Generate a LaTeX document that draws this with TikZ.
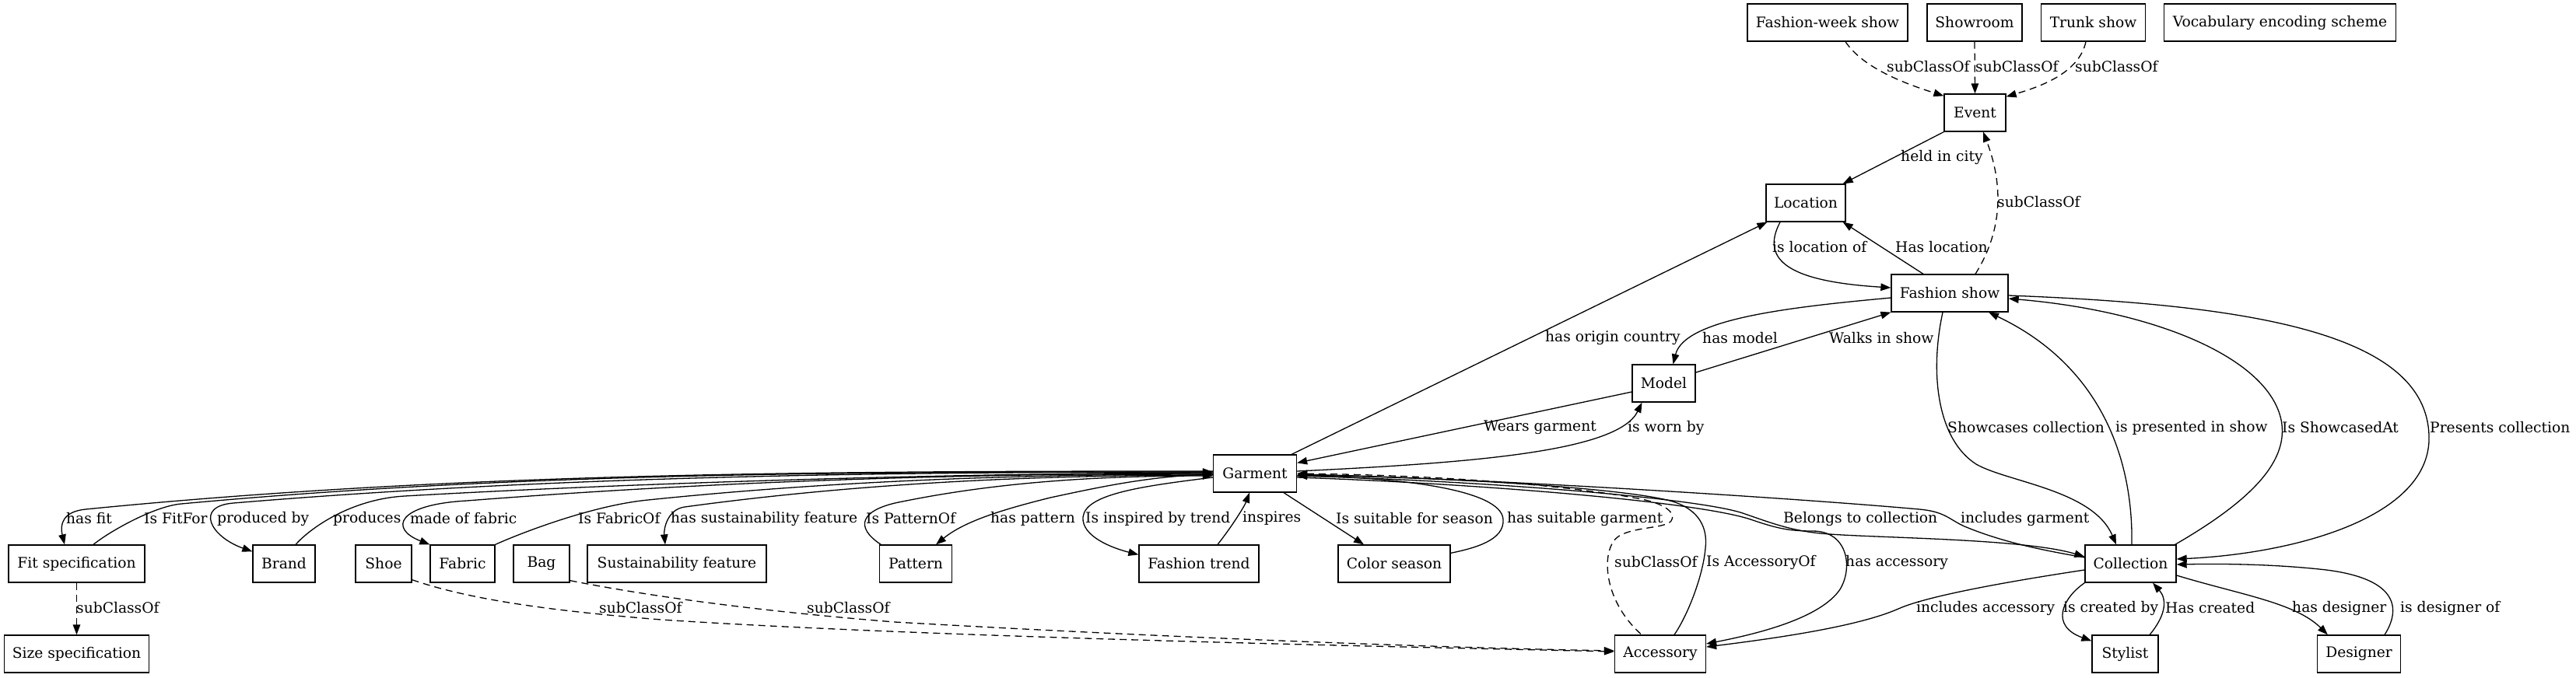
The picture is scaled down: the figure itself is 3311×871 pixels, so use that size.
\documentclass[tikz,border=0pt]{standalone}
\usepackage{fontspec}
\newfontfamily\gvserif{DejaVu Serif}
\usetikzlibrary{arrows.meta}
\newcommand\gvfont{\gvserif\fontsize{18.67}{22}\selectfont}
\tikzset{
  box/.style={draw, line width=1.3pt, minimum height=48pt, inner sep=0pt, font=\gvfont},
  lbl/.style={anchor=west, inner sep=0pt, font=\gvfont},
  fwd/.style={line width=1.3pt, -{Triangle[length=13pt,width=9.5pt]}},
  bwd/.style={line width=1.3pt, {Triangle[length=13pt,width=9.5pt]}-},
  dsh/.style={dash pattern=on 9pt off 6pt},
}
\begin{document}
\begin{tikzpicture}[x=1pt,y=-1pt]
\fill[white] (0,0) rectangle (3311,871);
\useasboundingbox (0,0) rectangle (3311,871);
% nodes
\node[box, minimum width=206pt] (fws) at (2349,29) {Fashion-week show};
\node[box, minimum width=122pt] (show) at (2538,29) {Showroom};
\node[box, minimum width=134pt] (trunk) at (2690.5,29) {Trunk show};
\node[box, minimum width=298pt] (vocab) at (2930.5,29) {Vocabulary encoding scheme};
\node[box, minimum width=79pt] (event) at (2538.5,145) {Event};
\node[box, minimum width=102pt] (loc) at (2321,261) {Location};
\node[box, minimum width=150pt] (fs) at (2506,377) {Fashion show};
\node[box, minimum width=81pt] (model) at (2138.5,493) {Model};
\node[box, minimum width=107pt] (garment) at (1613,609) {Garment};
\node[box, minimum width=175pt] (fit) at (98.5,725) {Fit specification};
\node[box, minimum width=80pt] (brand) at (365,725) {Brand};
\node[box, minimum width=72pt] (shoe) at (493,725) {Shoe};
\node[box, minimum width=83pt] (fabric) at (594.5,725) {Fabric};
\node[box, minimum width=72pt] (bag) at (696,725) {Bag};
\node[box, minimum width=230pt] (sust) at (870,725) {Sustainability feature};
\node[box, minimum width=93pt] (pattern) at (1177,725) {Pattern};
\node[box, minimum width=154pt] (trend) at (1541,725) {Fashion trend};
\node[box, minimum width=144pt] (color) at (1792,725) {Color season};
\node[box, minimum width=117pt] (coll) at (2738.5,725) {Collection};
\node[box, minimum width=186pt] (size) at (98.5,841) {Size specification};
\node[box, minimum width=117pt] (acc) at (2134,841) {Accessory};
\node[box, minimum width=85pt] (stylist) at (2731.5,841) {Stylist};
\node[box, minimum width=107pt] (designer) at (3032,841) {Designer};
% top edges
\draw[fwd,dsh] ([shift={(23,0)}]fws.south) .. controls (2395,88) and (2450,108) .. ([shift={(0,3)}]event.north west);
\draw[fwd,dsh] (show.south) -- (event.north);
\draw[fwd,dsh] ([shift={(-9.5,0)}]trunk.south) .. controls (2672,95) and (2620,112) .. ([shift={(0,4)}]event.north east);
\draw[fwd] (event.south west) -- ([shift={(-4,0)}]loc.north east);
\draw[fwd,dsh] ([shift={(33,0)}]fs.north) .. controls (2578,290) and (2572,230) .. ([shift={(10.5,0)}]event.south);
\draw[fwd] ([shift={(-33,0)}]loc.south) .. controls (2262,335) and (2300,362) .. ([shift={(0,-7)}]fs.west);
\draw[fwd] ([shift={(-34,0)}]fs.north) -- ([shift={(-4,0)}]loc.south east);
\draw[fwd] ([shift={(-7,0)}]garment.north east) -- ([shift={(2,0)}]loc.south west);
\draw[fwd] ([shift={(0,6)}]fs.west) .. controls (2300,395) and (2165,410) .. ([shift={(12,0)}]model.north);
\draw[fwd] ([shift={(0,-14)}]model.east) -- (fs.south west);
\draw[fwd] ([shift={(0,11)}]model.west) -- ([shift={(0,11)}]garment.north east);
\draw[fwd] ([shift={(0,-3)}]garment.east) .. controls (1900,595) and (2080,580) .. ([shift={(-28,0)}]model.south);
\draw[fwd] ([shift={(-9,0)}]fs.south) .. controls (2480,480) and (2490,565) .. (2540,597) .. controls (2580,620) and (2690,630) .. ([shift={(-18.5,0)}]coll.north);
\draw[fwd] ([shift={(1.5,0)}]coll.north) .. controls (2742,590) and (2700,470) .. ([shift={(50,0)}]fs.south);
\draw[fwd] ([shift={(-2,0)}]coll.north east) .. controls (2900,640) and (2942,590) .. (2932,540) .. controls (2915,460) and (2770,400) .. ([shift={(0,7)}]fs.east);
\draw[fwd] ([shift={(0,3)}]fs.east) .. controls (2900,392) and (3118,430) .. (3122,560) .. controls (3126,665) and (2950,712) .. ([shift={(0,-6)}]coll.east);
% left fan
\draw[fwd] ([shift={(0,-3)}]garment.west) .. controls (1077,606) and (593,607) .. (110,655) .. controls (80,658) and (77,675) .. ([shift={(-15.5,0)}]fit.north);
\draw[bwd] ([shift={(0,-2)}]garment.west) .. controls (1118,607) and (675,607) .. (233,648) .. controls (198,651) and (140,684) .. ([shift={(21.5,0)}]fit.north);
\draw[fwd] ([shift={(0,-2)}]garment.west) .. controls (1140,607) and (720,612) .. (300,647) .. controls (250,651) and (270,690) .. ([shift={(0,9)}]brand.north west);
\draw[bwd] ([shift={(0,-1)}]garment.west) .. controls (1200,609) and (800,622) .. (520,638) .. controls (450,642) and (398,680) .. ([shift={(15,0)}]brand.north);
\draw[fwd] (garment.west) .. controls (1240,609) and (920,619) .. (600,644) .. controls (510,649) and (500,680) .. (fabric.north west);
\draw[bwd] ([shift={(0,1)}]garment.west) .. controls (1318,610) and (1075,618) .. (833,643) .. controls (760,650) and (666,687) .. (fabric.north east);
\draw[fwd] ([shift={(0,2)}]garment.west) .. controls (1333,611) and (1107,621) .. (880,652) .. controls (858,655) and (853,680) .. ([shift={(-15,0)}]sust.north);
\draw[bwd] ([shift={(0,3)}]garment.west) .. controls (1427,612) and (1293,618) .. (1160,645) .. controls (1105,655) and (1098,678) .. ([shift={(2.5,0)}]pattern.north west);
\draw[fwd] ([shift={(0,1)}]garment.west) .. controls (1480,612) and (1420,625) .. (1350,640) .. controls (1290,655) and (1240,670) .. ([shift={(26,0)}]pattern.north);
\draw[fwd] ([shift={(0,5)}]garment.west) .. controls (1470,625) and (1395,635) .. (1392,665) .. controls (1390,690) and (1430,705) .. ([shift={(0,13)}]trend.north west);
\draw[fwd] ([shift={(24,0)}]trend.north) .. controls (1585,675) and (1600,650) .. ([shift={(-7,0)}]garment.south);
\draw[fwd] ([shift={(37,0)}]garment.south) -- ([shift={(-39,0)}]color.north);
\draw[bwd] ([shift={(0,3)}]garment.east) .. controls (1800,614) and (1930,630) .. (1932,668) .. controls (1934,695) and (1895,705) .. ([shift={(0,11)}]color.north east);
% right of garment
\draw[bwd] ([shift={(0,1)}]garment.east) .. controls (1900,615) and (2300,640) .. (2467,655) .. controls (2500,658) and (2505,668) .. (2525,677) .. controls (2580,700) and (2640,710) .. ([shift={(0,-8)}]coll.west);
\draw[fwd] ([shift={(0,3)}]garment.east) .. controls (1900,618) and (2180,640) .. (2240,660) .. controls (2275,672) and (2300,682) .. (2340,686) .. controls (2400,692) and (2600,692) .. ([shift={(0,-9)}]coll.west);
\draw[fwd] ([shift={(0,5)}]garment.east) .. controls (1900,622) and (2180,645) .. (2250,668) .. controls (2285,680) and (2300,683) .. (2330,683) .. controls (2375,683) and (2382,730) .. (2365,758) .. controls (2340,795) and (2260,815) .. ([shift={(0,-13)}]acc.east);
\draw[bwd] ([shift={(0,2)}]garment.east) .. controls (1900,615) and (2100,630) .. (2150,645) .. controls (2185,656) and (2195,680) .. (2192,705) .. controls (2189,740) and (2170,790) .. ([shift={(18,0)}]acc.north);
\draw[bwd,dsh] (garment.east) .. controls (1900,612) and (2050,630) .. (2110,642) .. controls (2140,648) and (2155,660) .. (2148,670) .. controls (2140,680) and (2100,677) .. (2080,690) .. controls (2058,705) and (2058,770) .. ([shift={(-24,0)}]acc.north);
\draw[fwd] ([shift={(0,8)}]coll.west) .. controls (2600,745) and (2480,765) .. (2440,783) .. controls (2390,805) and (2290,820) .. ([shift={(0,-9)}]acc.east);
\draw[fwd] (coll.south west) .. controls (2650,770) and (2635,805) .. ([shift={(0,8)}]stylist.north west);
\draw[fwd] ([shift={(31.5,0)}]stylist.north) .. controls (2785,790) and (2785,770) .. ([shift={(28.5,0)}]coll.south);
\draw[fwd] ([shift={(0,15)}]coll.east) .. controls (2880,765) and (2950,775) .. ([shift={(14,0)}]designer.north west);
\draw[fwd] ([shift={(33,0)}]designer.north) .. controls (3085,785) and (3085,745) .. (2990,733) .. controls (2920,725) and (2850,725) .. ([shift={(0,1)}]coll.east);
% bottom dashed
\draw[fwd,dsh] (fit.south) -- (size.north);
\draw[fwd,dsh] ([shift={(0,-4)}]shoe.south east) .. controls (600,770) and (700,785) .. (850,797) .. controls (1200,820) and (1800,832) .. ([shift={(0,-3)}]acc.west);
\draw[fwd,dsh] ([shift={(0,-3)}]bag.south east) .. controls (850,770) and (1000,788) .. (1150,800) .. controls (1500,820) and (1850,833) .. ([shift={(0,-4)}]acc.west);
% labels
\node[lbl] (l1) at (2425,86) {subClassOf};
\node[lbl] (l2) at (2539,86) {subClassOf};
\node[lbl] (l3) at (2667,86) {subClassOf};
\node[lbl] (l4) at (2443,202) {held in city};
\node[lbl] (l5) at (2567,260) {subClassOf};
\node[lbl] (l6) at (2278,318) {is location of};
\node[lbl] (l7) at (2436,318) {Has location};
\node[lbl] (l8) at (1986,434) {has origin country};
\node[lbl] (l9) at (2188,435) {has model};
\node[lbl] (l10) at (2351,435) {Walks in show};
\node[lbl] (l11) at (1907,550) {Wears garment};
\node[lbl] (l12) at (2092,550) {is worn by};
\node[lbl] (l13) at (2503,550) {Showcases collection};
\node[lbl] (l14) at (2719,550) {is presented in show};
\node[lbl] (l15) at (2933,550) {Is ShowcasedAt};
\node[lbl] (l16) at (3123,550) {Presents collection};
\node[lbl] (l17) at (85,667) {has fit};
\node[lbl] (l18) at (185,667) {Is FitFor};
\node[lbl] (l19) at (279,667) {produced by};
\node[lbl] (l20) at (428,667) {produces};
\node[lbl] (l21) at (527,667) {made of fabric};
\node[lbl] (l22) at (743,667) {Is FabricOf};
\node[lbl] (l23) at (862,667) {has sustainability feature};
\node[lbl] (l24) at (1113,667) {Is PatternOf};
\node[lbl] (l25) at (1273,667) {has pattern};
\node[lbl] (l26) at (1395,667) {Is inspired by trend};
\node[lbl] (l27) at (1597,667) {inspires};
\node[lbl] (l28) at (1717,667) {Is suitable for season};
\node[lbl] (l29) at (1937,667) {has suitable garment};
\node[lbl] (l30) at (2292,667) {Belongs to collection};
\node[lbl] (l31) at (2520,667) {includes garment};
\node[lbl] (l32) at (2075,723) {subClassOf};
\node[lbl] (l33) at (2193,723) {Is AccessoryOf};
\node[lbl] (l34) at (2372,723) {has accessory};
\node[lbl] (l35) at (98,782) {subClassOf};
\node[lbl] (l36) at (770,782) {subClassOf};
\node[lbl] (l37) at (1037,782) {subClassOf};
\node[lbl] (l38) at (2463,782) {includes accessory};
\node[lbl] (l39) at (2652,782) {is created by};
\node[lbl] (l40) at (2783,782) {Has created};
\node[lbl] (l41) at (2946,782) {has designer};
\node[lbl] (l42) at (3085,782) {is designer of};
\end{tikzpicture}
\end{document}
